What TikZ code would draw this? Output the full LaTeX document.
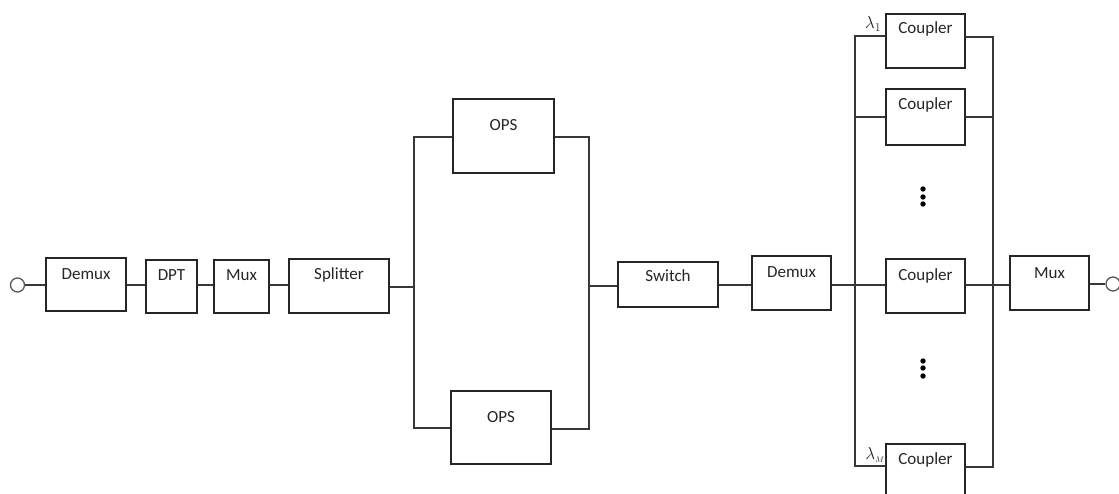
\documentclass[tikz,border=0pt]{standalone}
\usepackage{fontspec}
\setmainfont{Carlito}
\begin{document}
\begin{tikzpicture}[x=1pt,y=-1pt,
  wire/.style={line width=1.4pt,draw=black!78},
  box/.style={draw=black!85,line width=1.4pt,fill=white,inner sep=0pt},
  lbl/.style={font=\fontsize{17}{19}\selectfont,text=black!85,inner sep=0pt,anchor=center},
  port/.style={circle,draw=black!65,line width=1.3pt,fill=white,minimum size=14pt,inner sep=0pt},
  wl/.style={font=\fontsize{17}{19}\selectfont,inner sep=0pt,text=black!85},
  dot/.style={fill=black}]
\useasboundingbox (0,0) rectangle (1119,493);

% main bus height
\coordinate (bus) at (0,285);

% box helper: name, left, top, right, bottom, text, text offset from top
\newcommand{\blk}[7]{%
  \node[box,minimum width={#4-#2},minimum height={#5-#3}] (#1) at ({(#2+#4)/2},{(#3+#5)/2}) {};
  \node[lbl] (#1t) at ([yshift=-#7pt-2pt]#1.north) {#6};}

% ports
\node[port] (pin) at (17.5,285) {};
\node[port] (pout) at (1113,284) {};

% input chain
\blk{demA}{46}{258}{126}{311}{Demux}{15}
\blk{dpt}{146}{260}{197}{313}{DPT}{14}
\blk{muxA}{214}{260}{269}{313}{Mux}{14}
\blk{spl}{289}{259}{389}{313}{Splitter}{15}

% packet switches
\blk{opsT}{453}{99}{554}{173}{OPS}{25}
\blk{opsB}{451}{391}{551}{464}{OPS}{25}

% output chain
\blk{sw}{618}{262}{718}{307}{Switch}{12}
\blk{demB}{752}{256}{831}{310}{Demux}{15}
\blk{cp1}{886}{14}{965}{68}{Coupler}{14}
\blk{cp2}{886}{89}{965}{145}{Coupler}{15}
\blk{cp3}{886}{259}{965}{313}{Coupler}{16}
\blk{cpM}{886}{444}{965}{540}{Coupler}{15}
\blk{muxB}{1010}{256}{1089}{310}{Mux}{16}

% junction points
\coordinate (jl) at (414,287);
\coordinate (jr) at (589,286);
\coordinate (kl) at (855,285);
\coordinate (kr) at (993,285);

% input chain wiring
\draw[wire] (pin.east) -- (demA.west |- bus);
\draw[wire] (demA.east |- bus) -- (dpt.west |- bus);
\draw[wire] (dpt.east |- bus) -- (muxA.west |- bus);
\draw[wire] (muxA.east |- bus) -- (spl.west |- bus);
\draw[wire] (spl.east |- jl) -- (jl);

% parallel OPS branch
\draw[wire] (opsT.west |- 0,137) -| (jl) |- (opsB.west |- 0,428);
\draw[wire] (opsT.east |- 0,137) -| (jr) |- (opsB.east |- 0,429);
\draw[wire] (jr) -- (sw.west |- jr);

\draw[wire] (sw.east |- bus) -- (demB.west |- bus);
\draw[wire] (demB.east |- bus) -- (cp3.west |- bus);

% coupler bank
\draw[wire] (cp1.west |- 0,36) -| (kl) |- (cpM.west |- 0,466);
\draw[wire] (kl |- cp2.west) -- (cp2.west);
\draw[wire] (cp1.east |- 0,37) -| (kr) |- (cpM.east |- 0,467);
\draw[wire] (cp2.east) -- (kr |- cp2.east);
\draw[wire] (cp3.east |- bus) -- (muxB.west |- bus);
\draw[wire] (muxB.east |- pout) -- (pout.west);

% wavelength labels
\node[wl] (l1) at (873,24) {$\lambda_1$};
\node[wl] (lM) at (875,455) {$\lambda_{\scriptscriptstyle M}$};

% ellipses between couplers
\foreach \y in {189,197,204,361,368,376}
  \fill[dot] (923,\y) circle (2.7pt);
\end{tikzpicture}
\end{document}
